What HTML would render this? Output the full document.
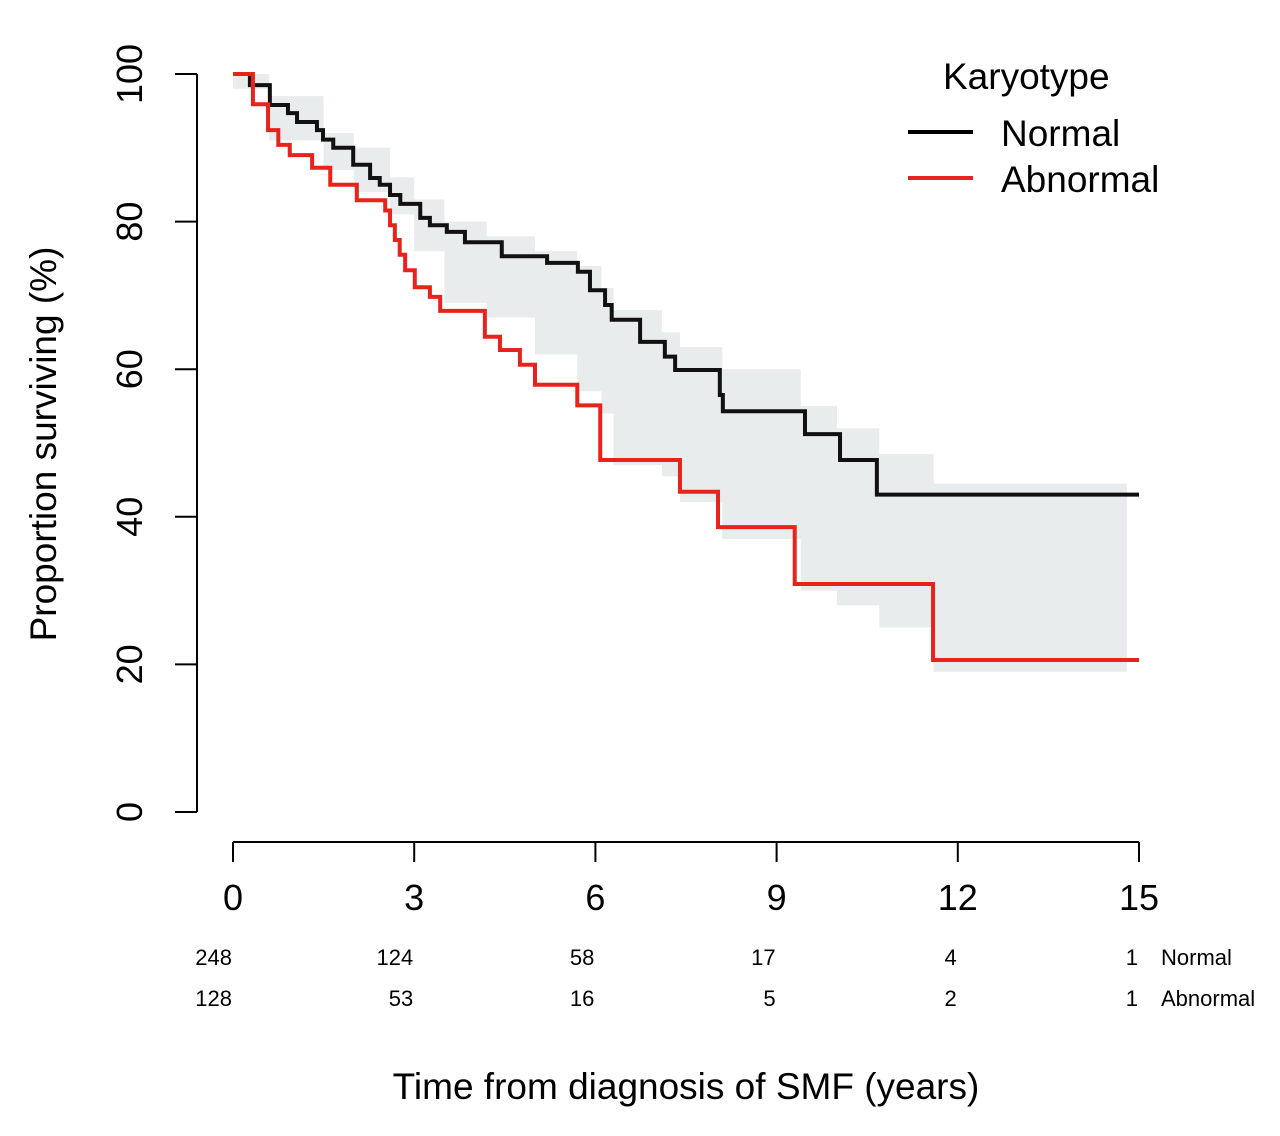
<!DOCTYPE html>
<html><head><meta charset="utf-8"><style>
body{margin:0;background:#fff}
svg{display:block;font-family:"Liberation Sans",sans-serif}
</style></head><body>
<svg id="chart" width="1280" height="1136" viewBox="0 0 1280 1136">
<g id="band"></g>
<g id="curves"></g>
<g id="axes"></g>
<text x="0" y="0" transform="translate(56,444) rotate(-90)" text-anchor="middle" font-size="37">Proportion surviving (%)</text>
<text x="686" y="1099" text-anchor="middle" font-size="37">Time from diagnosis of SMF (years)</text>
<g>
<text x="943" y="89" font-size="37">Karyotype</text>
<line x1="908" y1="132" x2="973" y2="132" stroke="#000" stroke-width="4"/>
<text x="1001" y="146" font-size="37">Normal</text>
<line x1="908" y1="178" x2="973" y2="178" stroke="#e8231c" stroke-width="4"/>
<text x="1001" y="192" font-size="37">Abnormal</text>
</g>
</svg>
<script>
const normalT=[0,0.28,0.61,0.91,1.06,1.39,1.49,1.66,1.99,2.27,2.43,2.6,2.77,3.1,3.26,3.54,3.84,4.45,5.2,5.71,5.91,6.16,6.27,6.74,7.15,7.32,8.06,8.11,9.47,10.05,10.66,15];
const normalS=[100,98.5,95.8,94.7,93.5,92.4,91.1,90.0,87.7,85.9,85.0,83.6,82.4,80.5,79.5,78.6,77.2,75.3,74.4,73.2,70.7,68.7,66.7,63.7,61.7,59.9,56.5,54.3,51.2,47.7,43.0,43.0];
const abnT=[0,0.33,0.58,0.75,0.94,1.31,1.61,2.05,2.52,2.6,2.68,2.76,2.85,3.01,3.26,3.43,4.17,4.42,4.75,5.0,5.7,6.08,7.4,8.03,9.3,11.59,15];
const abnS=[100,95.9,92.4,90.4,89.0,87.3,85.0,82.9,81.5,79.5,77.5,75.5,73.4,71.1,69.8,67.9,64.4,62.6,60.6,57.9,55.1,47.7,43.4,38.6,30.9,20.6,20.6];
const bandT=[0,0.6,1.5,2,2.6,3,3.5,4.2,5,5.7,6.1,6.3,7.1,7.4,8.1,9.4,10,10.7,11.6,14.8];
const bandHi=[100,97,92,90,86,83,80,78,76,74,71,68,65,63,60,55,52,48.5,44.5,44.5];
const bandLo=[98,91,87,84,81,76,69,67,62,57,54,47,45.5,42,37,30,28,25,19,19];
const xTicks=[0,3,6,9,12,15];
const yTicks=[0,20,40,60,80,100];
const riskNormal=[248,124,58,17,4,1];
const riskAbn=[128,53,16,5,2,1];
const NS="http://www.w3.org/2000/svg";
const X=t=>233+t*(1139-233)/15;
const Y=s=>812-s*(812-74)/100;
function mk(tag,attrs,parent){const e=document.createElementNS(NS,tag);for(const k in attrs)e.setAttribute(k,attrs[k]);parent.appendChild(e);return e;}
function stepPath(T,S){let d="M"+X(T[0])+","+Y(S[0]);for(let i=1;i<T.length;i++){d+="H"+X(T[i])+"V"+Y(S[i]);}return d;}
let pts=[];
for(let i=0;i<bandT.length;i++){if(i>0)pts.push([X(bandT[i]),Y(bandHi[i-1])]);pts.push([X(bandT[i]),Y(bandHi[i])]);}
for(let i=bandT.length-1;i>=0;i--){pts.push([X(bandT[i]),Y(bandLo[i])]);if(i>0)pts.push([X(bandT[i]),Y(bandLo[i-1])]);}
const bp=mk("polygon",{points:pts.map(p=>p.join(",")).join(" "),fill:"#e9ecec"},document.getElementById("band"));


const cg=document.getElementById("curves");
const pn=mk("path",{d:stepPath(normalT,normalS),fill:"none",stroke:"#111","stroke-width":4},cg);


const pa=mk("path",{d:stepPath(abnT,abnS),fill:"none",stroke:"#e8231c","stroke-width":4},cg);


const ag=document.getElementById("axes");
mk("line",{x1:197,y1:Y(100),x2:197,y2:Y(0),stroke:"#000","stroke-width":2},ag);
yTicks.forEach(v=>{
  mk("line",{x1:175,y1:Y(v),x2:197,y2:Y(v),stroke:"#000","stroke-width":2},ag);
  const t=mk("text",{transform:"translate(142,"+Y(v)+") rotate(-90)","text-anchor":"middle","font-size":36},ag);
  t.textContent=v;
  
  
});
mk("line",{x1:X(0),y1:842,x2:X(15),y2:842,stroke:"#000","stroke-width":2},ag);
xTicks.forEach((v,i)=>{
  mk("line",{x1:X(v),y1:842,x2:X(v),y2:862,stroke:"#000","stroke-width":2},ag);
  const t=mk("text",{x:X(v),y:910,"text-anchor":"middle","font-size":36},ag);
  t.textContent=v;
  
  
  const a=mk("text",{x:X(v)-1,y:965,"text-anchor":"end","font-size":22},ag);
  a.textContent=riskNormal[i];
  
  
  const b=mk("text",{x:X(v)-1,y:1006,"text-anchor":"end","font-size":22},ag);
  b.textContent=riskAbn[i];
  
  
});
const l1=mk("text",{x:1161,y:965,"font-size":22},ag);l1.textContent="Normal";


const l2=mk("text",{x:1161,y:1006,"font-size":22},ag);l2.textContent="Abnormal";


</script>
</body></html>
